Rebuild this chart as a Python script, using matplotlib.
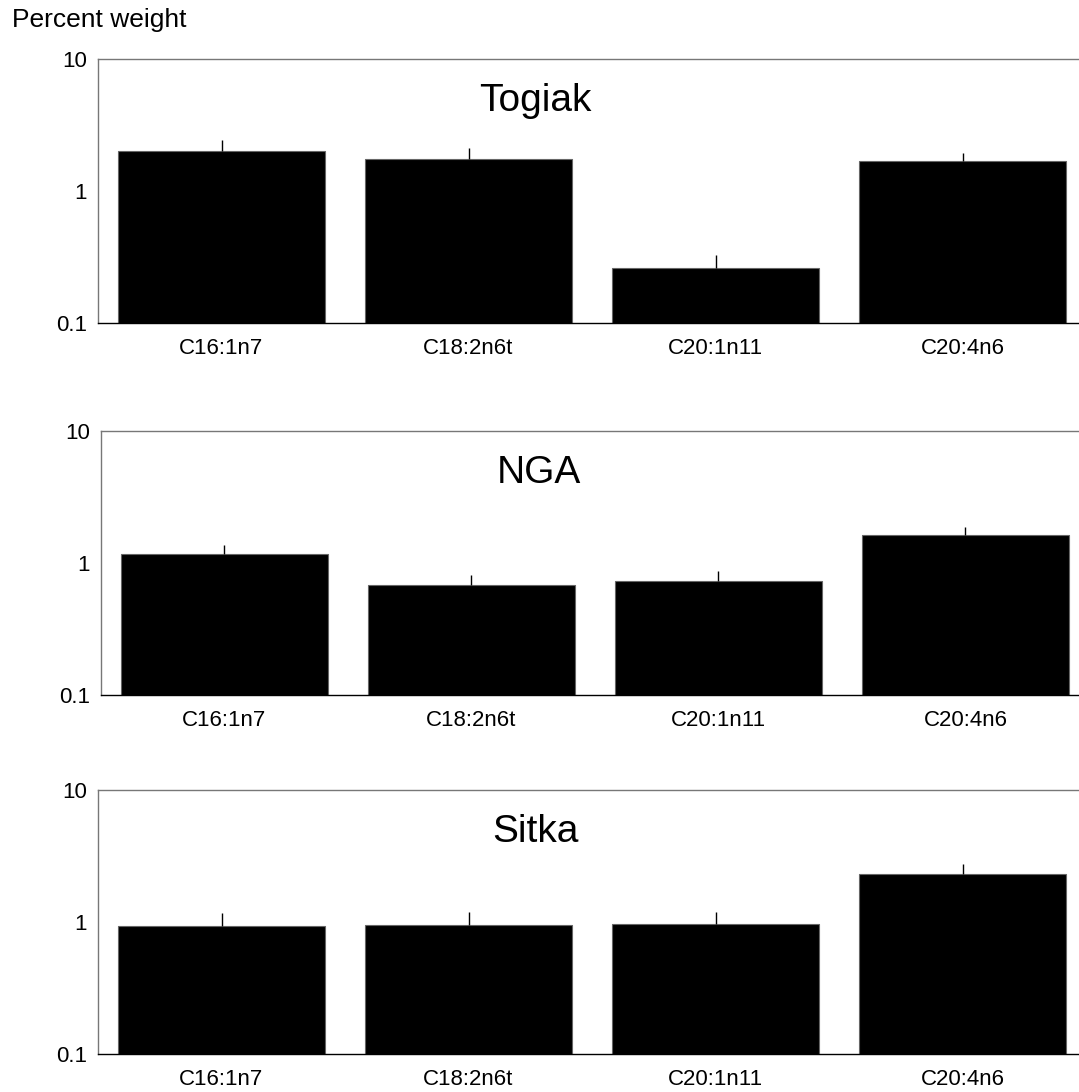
import numpy as np
import matplotlib
matplotlib.use('Agg')
import matplotlib.pyplot as plt

plt.rcParams['font.family'] = ['Liberation Sans', 'DejaVu Sans']

acids = ['C16:1n7', 'C18:2n6t', 'C20:1n11', 'C20:4n6']
sites = ['Togiak', 'NGA', 'Sitka']

## mean percent weight per site
togiak = [2.01, 1.75, 0.261, 1.69]
nga = [1.17, 0.68, 0.73, 1.63]
sitka = [0.93, 0.95, 0.97, 2.31]

## upper error (added to the mean)
togiak_err = [0.42, 0.37, 0.066, 0.25]
nga_err = [0.20, 0.13, 0.14, 0.24]
sitka_err = [0.24, 0.24, 0.22, 0.44]

values = [togiak, nga, sitka]
errors = [togiak_err, nga_err, sitka_err]

W, H = 1079, 1092
fig = plt.figure(figsize=(W / 100., H / 100.), dpi=100)

# axes boxes in pixels: left, top
boxes = [(98, 59), (101, 431), (98, 790)]
ax_w, ax_h = 988, 264

X = np.arange(len(acids))
for i, site in enumerate(sites):
    left, top = boxes[i]
    ax = fig.add_axes([left / float(W), 1 - (top + ax_h) / float(H),
                       ax_w / float(W), ax_h / float(H)])
    ax.set_yscale('log')
    ax.bar(X, values[i], width=0.835, color='k',
           edgecolor='#666666', linewidth=0.8)
    ax.errorbar(X, values[i], yerr=[np.zeros(len(X)), errors[i]],
                fmt='none', ecolor='k', elinewidth=1, capsize=0)
    ax.set_ylim(0.1, 10)
    ax.set_xlim(-0.5, 3.5)
    ax.set_yticks([0.1, 1, 10])
    ax.set_yticklabels(['0.1', '1', '10'])
    ax.minorticks_off()
    ax.set_xticks(X)
    ax.set_xticklabels(acids)
    ax.tick_params(axis='both', length=0, labelsize=16)
    ax.tick_params(axis='y', pad=8)
    ax.tick_params(axis='x', pad=10.5)
    ax.spines['right'].set_visible(False)
    ax.spines['top'].set_color('#777777')
    ax.spines['left'].set_color('#777777')
    ax.spines['bottom'].set_color('k')
    for s in ax.spines.values():
        s.set_linewidth(1)
    ax.text(0.443, 0.803, site, transform=ax.transAxes, ha='center',
            va='baseline', fontsize=28)

fig.text(12 / float(W), 1 - 27 / float(H), 'Percent weight', ha='left',
         va='baseline', fontsize=19)

fig.savefig('out.png', dpi=100)
